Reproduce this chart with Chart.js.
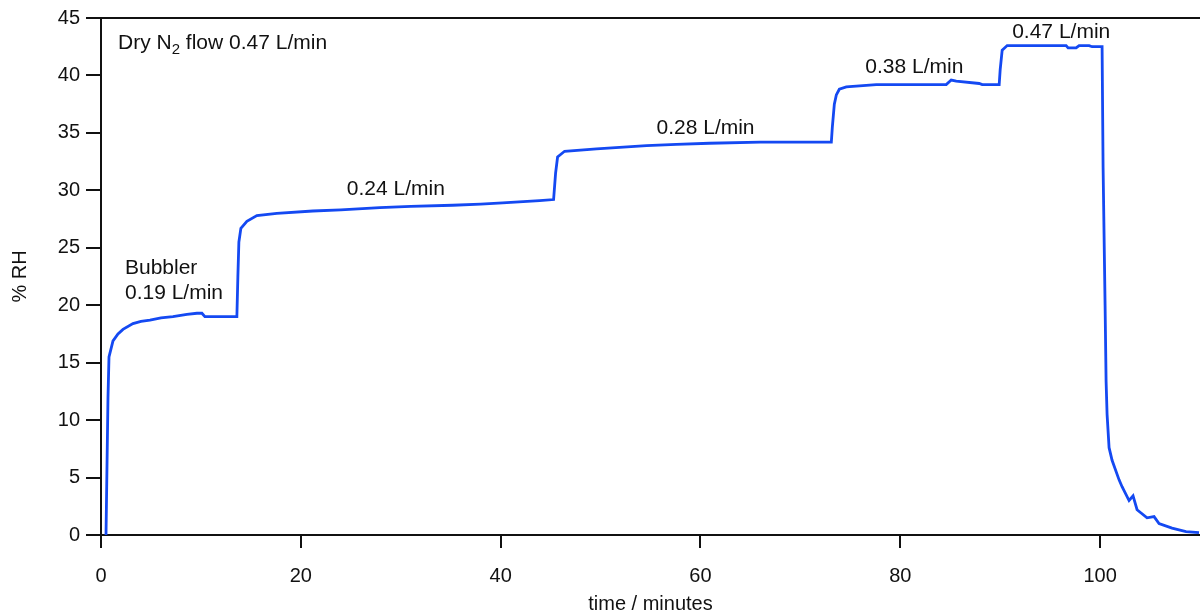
<!DOCTYPE html>
<html>
<head>
<meta charset="UTF-8">
<title>% RH vs time</title>
<script src="https://cdn.jsdelivr.net/npm/chart.js"></script>
<style>
  body { margin: 0; background: #fff; }
  #wrap { width: 1200px; height: 614px; }
</style>
</head>
<body>
<div id="wrap"><canvas id="rh" width="1200" height="614"></canvas></div>
<script>
// time (minutes) and relative humidity (%)
const times = [0.5, 0.6, 0.7, 0.8, 1.2, 1.7, 2.2, 3.2, 4.0, 4.9, 6.0, 7.2, 8.6, 9.6, 10.1, 10.4, 11.0, 13.6,
  13.7, 13.8, 14.0, 14.6, 15.6, 17.6, 21.2, 24.0, 27.9, 31.0, 35.2, 38.0, 40.2, 43.9, 45.3,
  45.5, 45.7, 46.4, 49.6, 54.6, 57.6, 60.9, 66.0, 73.1,
  73.2, 73.4, 73.6, 73.9, 74.6, 77.6, 84.6, 85.1, 85.6, 87.9, 88.2, 89.9,
  90.0, 90.2, 90.7, 96.6, 96.8, 97.6, 97.9, 98.9, 99.2, 100.2,
  100.3, 100.5, 100.6, 100.7, 100.9, 101.2, 101.9, 102.2, 102.9, 103.3, 103.7, 104.7, 105.4, 105.9, 107.2, 108.6, 109.9];
const rh = [0, 6, 12, 15.5, 16.9, 17.5, 17.9, 18.4, 18.6, 18.7, 18.9, 19.0, 19.2, 19.3, 19.3, 19.0, 19.0, 19.0,
  22.5, 25.5, 26.7, 27.3, 27.8, 28.0, 28.2, 28.3, 28.5, 28.6, 28.7, 28.8, 28.9, 29.1, 29.2,
  31.5, 32.9, 33.4, 33.6, 33.9, 34.0, 34.1, 34.2, 34.2,
  35.5, 37.5, 38.3, 38.8, 39.0, 39.2, 39.2, 39.6, 39.5, 39.3, 39.2, 39.2,
  40.5, 42.2, 42.6, 42.6, 42.4, 42.4, 42.6, 42.6, 42.5, 42.5,
  32, 20, 13.4, 10.5, 7.6, 6.5, 4.8, 4.2, 3.0, 3.4, 2.2, 1.5, 1.6, 1.0, 0.6, 0.3, 0.2];

// flow labels: text, and where they sit (minutes, %RH of baseline)
const noteText = ['Bubbler', '0.19 L/min', '0.24 L/min', '0.28 L/min', '0.38 L/min', '0.47 L/min'];
const noteX = [2.4, 2.4, 24.6, 55.6, 76.5, 91.2];
const noteY = [22.7, 20.5, 29.6, 34.9, 40.2, 43.3];

const ink = '#111';
const font = 'Liberation Sans, Arial, sans-serif';

const notes = {
  id: 'notes',
  afterDraw(chart) {
    const c = chart.ctx, xs = chart.scales.x, ys = chart.scales.y, area = chart.chartArea;
    c.save();
    // top frame line
    c.strokeStyle = ink;
    c.lineWidth = 2;
    c.beginPath();
    c.moveTo(area.left, area.top);
    c.lineTo(area.right, area.top);
    c.stroke();

    c.fillStyle = ink;
    c.textBaseline = 'alphabetic';
    c.textAlign = 'left';
    c.font = '21px ' + font;
    noteText.forEach((t, i) => {
      c.fillText(t, xs.getPixelForValue(noteX[i]), ys.getPixelForValue(noteY[i]));
    });

    // Dry N2 flow, with subscript
    let x = xs.getPixelForValue(1.7), y = ys.getPixelForValue(42.3);
    c.fillText('Dry N', x, y);
    x += c.measureText('Dry N').width;
    c.font = '15px ' + font;
    c.fillText('2', x, y + 5);
    x += c.measureText('2').width;
    c.font = '21px ' + font;
    c.fillText(' flow 0.47 L/min', x, y);
    c.restore();
  }
};

new Chart(document.getElementById('rh'), {
  type: 'line',
  data: {
    datasets: [{
      data: times.map((t, i) => ({ x: t, y: rh[i] })),
      borderColor: '#1449f2',
      borderWidth: 2.8,
      pointRadius: 0,
      tension: 0,
      fill: false
    }]
  },
  options: {
    responsive: false,
    animation: false,
    events: [],
    layout: { padding: { top: 16, right: 0, left: 0, bottom: 0 } },
    plugins: { legend: { display: false }, tooltip: { enabled: false } },
    scales: {
      x: {
        type: 'linear',
        min: 0,
        max: 110,
        afterFit: s => { s.height = 79; },
        ticks: { stepSize: 20, includeBounds: false, color: ink, padding: 16, maxRotation: 0,
          font: { family: font, size: 20 } },
        grid: { drawOnChartArea: false, color: ink, lineWidth: 2, tickLength: 13 },
        border: { color: ink, width: 2 },
        title: { display: true, text: 'time / minutes', color: ink,
          font: { family: font, size: 20, lineHeight: 1 }, padding: { top: 0, bottom: 0 } }
      },
      y: {
        min: 0,
        max: 45,
        afterFit: s => { s.width = 101; },
        ticks: { stepSize: 5, color: ink, padding: 6, font: { family: font, size: 20 } },
        grid: { drawOnChartArea: false, color: ink, lineWidth: 2, tickLength: 15 },
        border: { color: ink, width: 2 },
        title: { display: true, text: '% RH', color: ink,
          font: { family: font, size: 20, lineHeight: 1 }, padding: { top: 10, bottom: 0 } }
      }
    }
  },
  plugins: [notes]
});
</script>
</body>
</html>
